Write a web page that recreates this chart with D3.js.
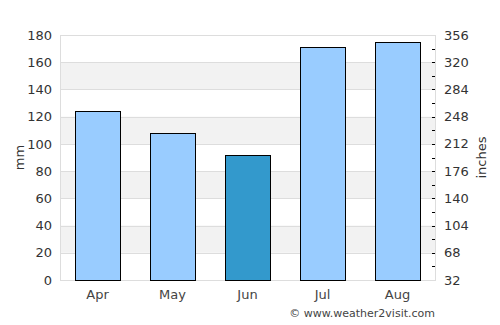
<!DOCTYPE html>
<html>
<head>
<meta charset="utf-8">
<script src="https://cdn.jsdelivr.net/npm/d3@7"></script>
<style>
  body { margin: 0; background: #fff; }
  text { font-family: "DejaVu Sans", sans-serif; }
</style>
</head>
<body>
<script>
// rainfall per month (mm)
const months = ['Apr', 'May', 'Jun', 'Jul', 'Aug'];
const rainfall = [124, 108, 92, 171, 175];
const highlight = 'Jun';
const leftTicks = [0, 20, 40, 60, 80, 100, 120, 140, 160, 180];
const rightTickLabels = ['32', '68', '104', '140', '176', '212', '248', '284', '320', '356'];

const svgWidth = 500;
const svgHeight = 325;
const margin = { top: 35, right: 65, bottom: 45, left: 60 };
const chartWidth = svgWidth - margin.left - margin.right;
const chartHeight = svgHeight - margin.top - margin.bottom;

const svg = d3.select('body')
  .append('svg')
  .attr('width', svgWidth)
  .attr('height', svgHeight);

const chart = svg.append('g')
  .attr('transform', `translate(${margin.left},${margin.top})`);

const xScale = d3.scaleBand()
  .domain(months)
  .range([0, chartWidth])
  .paddingInner(0.4)
  .paddingOuter(0.2);

const yScale = d3.scaleLinear()
  .domain([0, 180])
  .range([chartHeight, 0]);

// alternating grey bands
const bands = d3.range(20, 180, 40);
chart.selectAll('.band')
  .data(bands)
  .enter()
  .append('rect')
  .attr('x', 0)
  .attr('y', d => yScale(d + 20))
  .attr('width', chartWidth)
  .attr('height', d => yScale(d) - yScale(d + 20))
  .attr('fill', '#f2f2f2');

// grid lines
chart.selectAll('.grid')
  .data(leftTicks.slice(1, -1))
  .enter()
  .append('line')
  .attr('x1', 0)
  .attr('x2', chartWidth)
  .attr('y1', d => Math.round(yScale(d)) + 0.5)
  .attr('y2', d => Math.round(yScale(d)) + 0.5)
  .attr('stroke', '#dddddd');

// plot frame
chart.append('rect')
  .attr('x', 0.5)
  .attr('y', 0.5)
  .attr('width', chartWidth)
  .attr('height', chartHeight)
  .attr('fill', 'none')
  .attr('stroke', '#dddddd');

// bars
chart.selectAll('.bar')
  .data(months.map((m, i) => ({ month: m, value: rainfall[i] })))
  .enter()
  .append('rect')
  .attr('class', 'bar')
  .attr('x', d => Math.round(xScale(d.month)) + 0.5)
  .attr('y', d => Math.round(yScale(d.value)) + 0.5)
  .attr('width', Math.round(xScale.bandwidth()))
  .attr('height', d => chartHeight - Math.round(yScale(d.value)))
  .attr('fill', d => d.month === highlight ? '#3399cc' : '#99ccff')
  .attr('stroke', '#000')
  .attr('stroke-width', 1);

// left axis
const yAxis = d3.axisLeft(yScale)
  .tickValues(leftTicks)
  .tickSize(0)
  .tickPadding(8);

const leftAxis = chart.append('g').call(yAxis);
leftAxis.select('.domain').remove();
leftAxis.selectAll('text')
  .style('font-size', '13px')
  .attr('fill', '#333');

// right axis: minor ticks every 10mm, labels every 20mm
chart.selectAll('.rtick')
  .data(d3.range(10, 180, 10))
  .enter()
  .append('line')
  .attr('x1', chartWidth - 3)
  .attr('x2', chartWidth)
  .attr('y1', d => Math.round(yScale(d)) + 0.5)
  .attr('y2', d => Math.round(yScale(d)) + 0.5)
  .attr('stroke', '#000');

chart.selectAll('.rlabel')
  .data(leftTicks)
  .enter()
  .append('text')
  .attr('x', chartWidth + 9)
  .attr('y', d => yScale(d))
  .attr('dy', '0.35em')
  .style('font-size', '13px')
  .attr('fill', '#333')
  .text((d, i) => rightTickLabels[i]);

// bottom axis
const xAxis = d3.axisBottom(xScale)
  .tickSize(0)
  .tickPadding(10);

const bottomAxis = chart.append('g')
  .attr('transform', `translate(0,${chartHeight})`)
  .call(xAxis);
bottomAxis.select('.domain').remove();
bottomAxis.selectAll('text')
  .style('font-size', '13px')
  .attr('fill', '#444');

// axis titles
svg.append('text')
  .attr('transform', `translate(24,${margin.top + chartHeight / 2}) rotate(-90)`)
  .attr('text-anchor', 'middle')
  .style('font-size', '13px')
  .attr('fill', '#333')
  .text('mm');

svg.append('text')
  .attr('transform', `translate(486,${margin.top + chartHeight / 2}) rotate(-90)`)
  .attr('text-anchor', 'middle')
  .style('font-size', '13px')
  .attr('fill', '#333')
  .text('inches');

// credit
svg.append('text')
  .attr('x', margin.left + chartWidth)
  .attr('y', 317)
  .attr('text-anchor', 'end')
  .style('font-size', '11px')
  .attr('fill', '#444')
  .text('© www.weather2visit.com');
</script>
</body>
</html>
